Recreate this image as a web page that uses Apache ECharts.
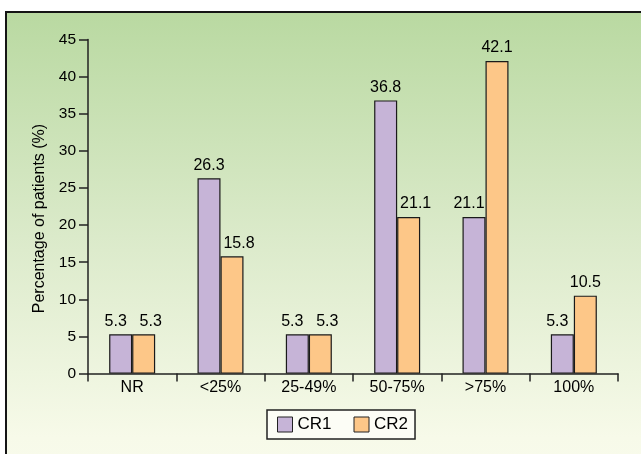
<!DOCTYPE html>
<html>
<head>
<meta charset="utf-8">
<style>
html,body{margin:0;padding:0;background:#fff;}
#chart{width:641px;height:454px;}
</style>
<script src="https://cdn.jsdelivr.net/npm/echarts@6/dist/echarts.min.js"></script>
</head>
<body>
<div id="chart"></div>
<script>
const categories = ['NR', '<25%', '25-49%', '50-75%', '>75%', '100%'];
const cr1Values = [5.3, 26.3, 5.3, 36.8, 21.1, 5.3];
const cr2Values = [5.3, 15.8, 5.3, 21.1, 42.1, 10.5];
const seriesNames = ['CR1', 'CR2'];
const yAxisTitle = 'Percentage of patients (%)';

const FONT = '"Liberation Sans", Arial, Helvetica, sans-serif';
const chart = echarts.init(document.getElementById('chart'), null, {renderer: 'canvas'});

// a label on the shorter (or equal) bar of a pair is nudged away from its neighbour
function withLabels(values, other, shift) {
  return values.map((v, i) => ({
    value: v,
    label: v <= other[i] ? {offset: [shift, 0]} : {}
  }));
}

const labelStyle = {
  show: true, position: 'top', distance: 5,
  color: '#000', fontSize: 16, fontFamily: FONT,
  formatter: p => p.value.toFixed(1)
};

chart.setOption({
  animation: false,
  backgroundColor: '#ffffff',
  graphic: [{
    type: 'rect', z: -10, silent: true,
    shape: {x: 6, y: 12, width: 700, height: 500},
    style: {
      fill: new echarts.graphic.LinearGradient(0, 0, 0, 1, [
        {offset: 0, color: '#b9d9a1'},
        {offset: 0.45, color: '#dbeaca'},
        {offset: 0.85, color: '#f7fae9'},
        {offset: 1, color: '#fafcef'}
      ]),
      stroke: '#151515', lineWidth: 2
    }
  }],
  grid: {left: 88, right: 23, top: 39.5, bottom: 80.4, containLabel: false},
  legend: {
    data: seriesNames,
    left: 267, top: 410,
    padding: [6, 7, 6, 10],
    itemGap: 22,
    itemWidth: 15, itemHeight: 15,
    icon: 'rect',
    borderColor: '#222', borderWidth: 1.5,
    backgroundColor: '#fcfdf6',
    textStyle: {color: '#000', fontSize: 17, fontFamily: FONT},
    itemStyle: {borderColor: '#222', borderWidth: 1}
  },
  xAxis: {
    type: 'category',
    data: categories,
    axisLine: {lineStyle: {color: '#222', width: 1.5}},
    axisTick: {show: true, inside: false, length: 8, lineStyle: {color: '#222', width: 1.5}},
    axisLabel: {color: '#000', fontSize: 16, fontFamily: FONT, margin: 6, interval: 0}
  },
  yAxis: {
    type: 'value',
    min: 0, max: 45, interval: 5,
    name: yAxisTitle,
    nameLocation: 'middle',
    nameGap: 36,
    nameTextStyle: {color: '#000', fontSize: 16, fontFamily: FONT, padding: [0, 24, 0, 0]},
    axisLine: {show: true, lineStyle: {color: '#222', width: 1.5}},
    axisTick: {show: true, length: 9, lineStyle: {color: '#222', width: 1.5}},
    axisLabel: {color: '#000', fontSize: 15.5, fontFamily: FONT, margin: 12},
    splitLine: {show: false}
  },
  series: [
    {
      name: seriesNames[0], type: 'bar', data: withLabels(cr1Values, cr2Values, -5),
      barWidth: 23, barGap: '0%',
      itemStyle: {color: '#c6b4d7', borderColor: '#1a1a1a', borderWidth: 1.2},
      label: labelStyle
    },
    {
      name: seriesNames[1], type: 'bar', data: withLabels(cr2Values, cr1Values, 7),
      barWidth: 23, barGap: '0%',
      itemStyle: {color: '#fdc788', borderColor: '#1a1a1a', borderWidth: 1.2},
      label: labelStyle
    }
  ]
});
</script>
</body>
</html>
